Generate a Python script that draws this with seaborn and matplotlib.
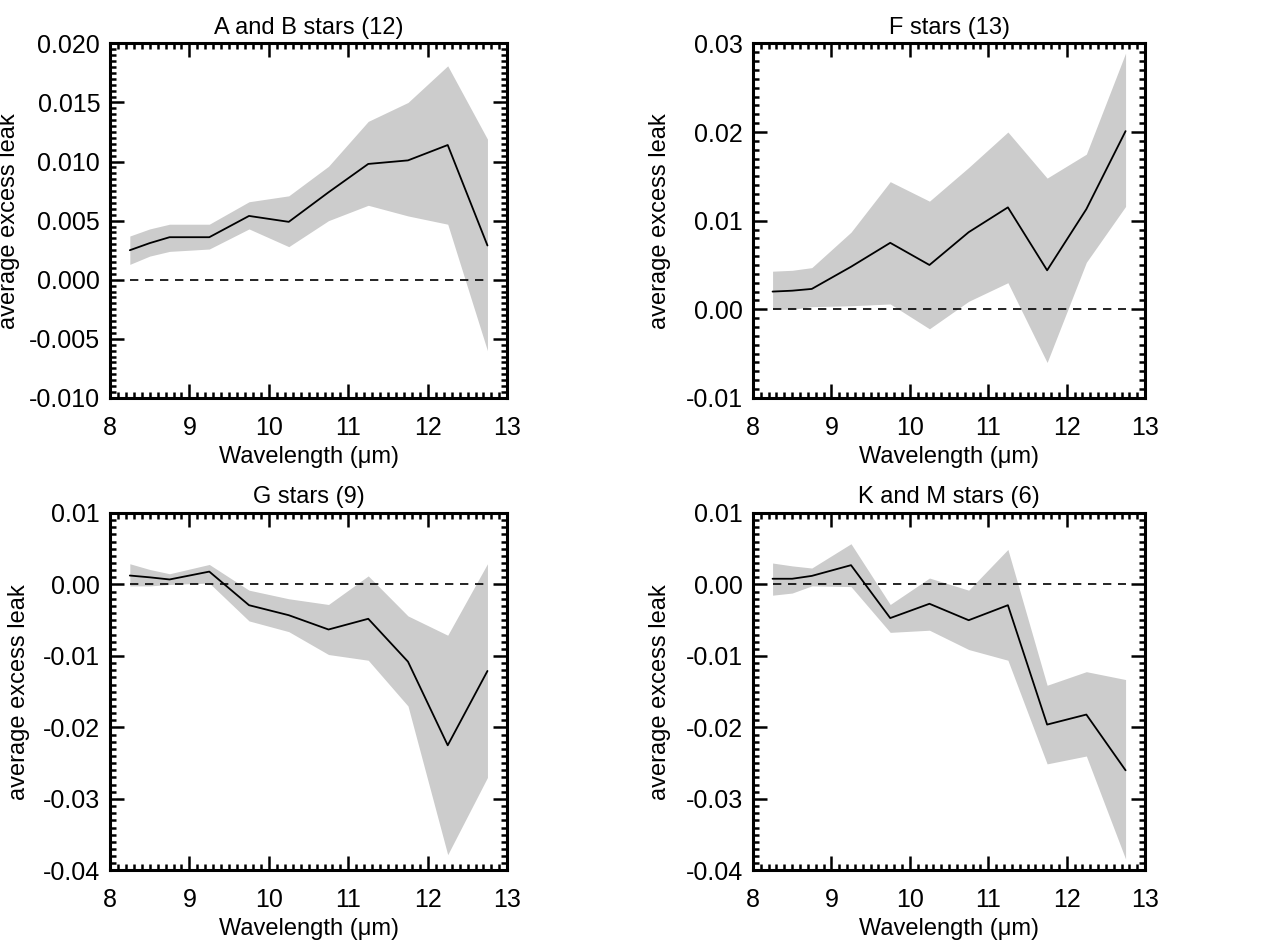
import numpy as np
import pandas as pd
import matplotlib
matplotlib.use("Agg")
import matplotlib.pyplot as plt
from matplotlib.ticker import MultipleLocator, FormatStrFormatter
import seaborn as sns

# wavelength bins (micron)
wave = [8.25, 8.5, 8.75, 9.25, 9.75, 10.25, 10.75, 11.25, 11.75, 12.25, 12.75]

# A and B stars
ab_mean = [0.0025, 0.0031, 0.0036, 0.0036, 0.0054, 0.0049, 0.0074, 0.0098, 0.0101, 0.0114, 0.0029]
ab_hi = [0.0037, 0.0043, 0.0047, 0.0047, 0.0066, 0.0071, 0.0096, 0.0134, 0.0150, 0.0181, 0.0119]
ab_lo = [0.0013, 0.0020, 0.0024, 0.0026, 0.0043, 0.0028, 0.0050, 0.0063, 0.0054, 0.0047, -0.0060]

# F stars
f_mean = [0.0020, 0.0021, 0.0023, 0.0048, 0.0075, 0.0050, 0.0087, 0.0115, 0.0044, 0.0113, 0.0201]
f_hi = [0.0043, 0.0044, 0.0047, 0.0087, 0.0144, 0.0122, 0.0160, 0.0200, 0.0148, 0.0175, 0.0289]
f_lo = [0.0000, 0.0000, 0.0003, 0.0004, 0.0006, -0.0022, 0.0009, 0.0030, -0.0060, 0.0053, 0.0116]

# G stars
g_mean = [0.00125, 0.0010, 0.0007, 0.0018, -0.0029, -0.0043, -0.0063, -0.0048, -0.0108, -0.0225, -0.0121]
g_hi = [0.0029, 0.0021, 0.0015, 0.0028, -0.0008, -0.0020, -0.0028, 0.0012, -0.0044, -0.0071, 0.0029]
g_lo = [-0.0002, -0.0002, 0.0000, 0.0002, -0.0051, -0.0066, -0.0098, -0.0106, -0.0170, -0.0378, -0.0270]

# K and M stars
km_mean = [0.0008, 0.0008, 0.0012, 0.0027, -0.0047, -0.0027, -0.0050, -0.0029, -0.0196, -0.0182, -0.0260]
km_hi = [0.0030, 0.0026, 0.0023, 0.0057, -0.0028, 0.0009, -0.0008, 0.0049, -0.0141, -0.0122, -0.0133]
km_lo = [-0.0015, -0.0012, -0.0002, -0.0003, -0.0067, -0.0064, -0.0091, -0.0106, -0.0251, -0.0240, -0.0384]

titles = ["A and B stars (12)", "F stars (13)", "G stars (9)", "K and M stars (6)"]
means = [ab_mean, f_mean, g_mean, km_mean]
highs = [ab_hi, f_hi, g_hi, km_hi]
lows = [ab_lo, f_lo, g_lo, km_lo]
ylims = [(-0.010, 0.020), (-0.01, 0.03), (-0.04, 0.01), (-0.04, 0.01)]
ymajor = [0.005, 0.01, 0.01, 0.01]
yfmt = ["%.3f", "%.2f", "%.2f", "%.2f"]

sns.set_style("ticks")
plt.rcParams['font.family'] = ['Liberation Sans', 'DejaVu Sans']
plt.rcParams.update({"text.color": "black", "axes.labelcolor": "black",
                     "xtick.color": "black", "ytick.color": "black",
                     "axes.edgecolor": "black"})

fig = plt.figure(figsize=(12.86, 9.43), dpi=100)
boxes = [
    [0.0855, 0.578, 0.309, 0.376],
    [0.5855, 0.578, 0.305, 0.376],
    [0.0855, 0.077, 0.309, 0.379],
    [0.5855, 0.077, 0.305, 0.379],
]
ylab_x = [-0.227, -0.209, -0.202, -0.209]

for i in range(4):
    ax = fig.add_axes(boxes[i])
    df = pd.DataFrame({"wave": wave, "leak": means[i]})
    ax.fill_between(wave, lows[i], highs[i], color="#cccccc", linewidth=0)
    sns.lineplot(data=df, x="wave", y="leak", color="black", linewidth=1.3, ax=ax)
    ax.plot([wave[0], wave[-1]], [0, 0], color="black", linestyle=(0, (5, 4)), linewidth=1.2)
    ax.set_xlim(8, 13)
    ax.set_ylim(*ylims[i])
    ax.xaxis.set_major_locator(MultipleLocator(1))
    ax.xaxis.set_minor_locator(MultipleLocator(0.1))
    ax.yaxis.set_major_locator(MultipleLocator(ymajor[i]))
    ax.yaxis.set_minor_locator(MultipleLocator(ymajor[i] / 10))
    ax.yaxis.set_major_formatter(FormatStrFormatter(yfmt[i]))
    ax.tick_params(which="both", direction="in", top=True, right=True, width=1.8)
    ax.tick_params(which="major", length=10, labelsize=18)
    ax.tick_params(axis="y", which="major", pad=7)
    ax.tick_params(axis="x", which="major", pad=13)
    ax.tick_params(which="minor", length=4)
    for s in ax.spines.values():
        s.set_linewidth(2.2)
        s.set_visible(True)
    ax.set_title(titles[i], fontsize=17, pad=7)
    ax.set_xlabel("Wavelength (\u03bcm)", fontsize=17, labelpad=4)
    ax.set_ylabel("average excess leak", fontsize=17)
    ax.yaxis.set_label_coords(ylab_x[i], 0.5)

fig.savefig("out.png", dpi=100)
